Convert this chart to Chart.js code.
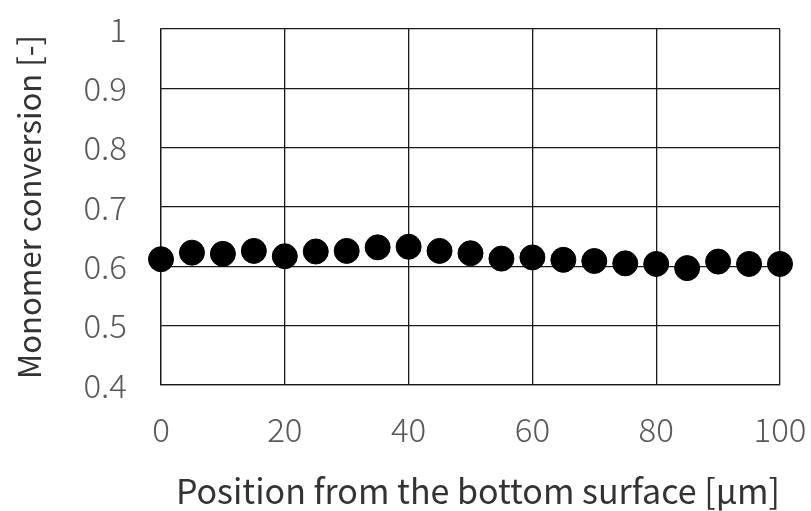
<!DOCTYPE html>
<html>
<head>
<meta charset="utf-8">
<script src="https://cdn.jsdelivr.net/npm/chart.js@4/dist/chart.umd.min.js"></script>
<style>
  html, body { margin: 0; padding: 0; background: #fff; }
  #box { width: 811px; height: 511px; }
</style>
</head>
<body>
<div id="box"><canvas id="grafico" width="811" height="511"></canvas></div>
<script>
// dados
const posicoes = [0, 5, 10, 15, 20, 25, 30, 35, 40, 45, 50, 55, 60, 65, 70, 75, 80, 85, 90, 95, 100];
const conversao = [0.612, 0.623, 0.621, 0.626, 0.617, 0.625, 0.626, 0.632, 0.633, 0.626, 0.622,
                   0.613, 0.615, 0.611, 0.609, 0.605, 0.604, 0.597, 0.608, 0.604, 0.604];
const ticksX = [0, 20, 40, 60, 80, 100];
const ticksY = [0.4, 0.5, 0.6, 0.7, 0.8, 0.9, 1];
const tituloX = 'Position from the bottom surface [μm]';
const tituloY = 'Monomer conversion [-]';

const fonte = '"Noto Sans CJK JP", "Noto Sans", sans-serif';
const corTicks = '#595959';
const corTitulo = '#333333';
const corGrade = '#1a1a1a';

const pontos = posicoes.map((x, i) => ({ x: x, y: conversao[i] }));

new Chart(document.getElementById('grafico'), {
    type: 'scatter',
    data: {
        datasets: [{
            data: pontos,
            backgroundColor: '#000',
            borderColor: '#000',
            pointRadius: 12.5,
            pointHoverRadius: 12.5,
            showLine: false,
            clip: false
        }]
    },
    options: {
        responsive: false,
        animation: false,
        events: [],
        layout: { padding: { top: 29, right: 31, left: 0, bottom: 0 } },
        plugins: { legend: { display: false }, tooltip: { enabled: false } },
        scales: {
            x: {
                type: 'linear',
                min: 0,
                max: 100,
                afterBuildTicks: s => { s.ticks = ticksX.map(v => ({ value: v })); },
                afterFit: s => { s.height = 126; s.paddingLeft = 0; s.paddingRight = 0; },
                grid: { color: corGrade, lineWidth: 1.3, drawTicks: false },
                border: { color: corGrade, width: 1.3 },
                ticks: { color: corTicks, font: { family: fonte, size: 33, weight: 300 }, padding: 25, maxRotation: 0 },
                title: {
                    display: true,
                    text: tituloX,
                    align: 'end',
                    color: corTitulo,
                    font: { family: fonte, size: 34, lineHeight: 1.0 },
                    padding: { top: 0, bottom: 3 }
                }
            },
            y: {
                type: 'linear',
                min: 0.4,
                max: 1,
                afterBuildTicks: s => { s.ticks = ticksY.map(v => ({ value: v })); },
                afterFit: s => { s.width = 161; s.paddingTop = 0; s.paddingBottom = 0; },
                grid: { color: corGrade, lineWidth: 1.3, drawTicks: false },
                border: { color: corGrade, width: 1.3 },
                ticks: {
                    color: corTicks,
                    font: { family: fonte, size: 33, weight: 300 },
                    padding: 34,
                    callback: v => String(Math.round(v * 10) / 10)
                },
                title: {
                    display: true,
                    text: tituloY,
                    color: corTitulo,
                    font: { family: fonte, size: 31, lineHeight: 1.2 },
                    padding: { top: 11, bottom: 0 }
                }
            }
        }
    }
});
</script>
</body>
</html>
